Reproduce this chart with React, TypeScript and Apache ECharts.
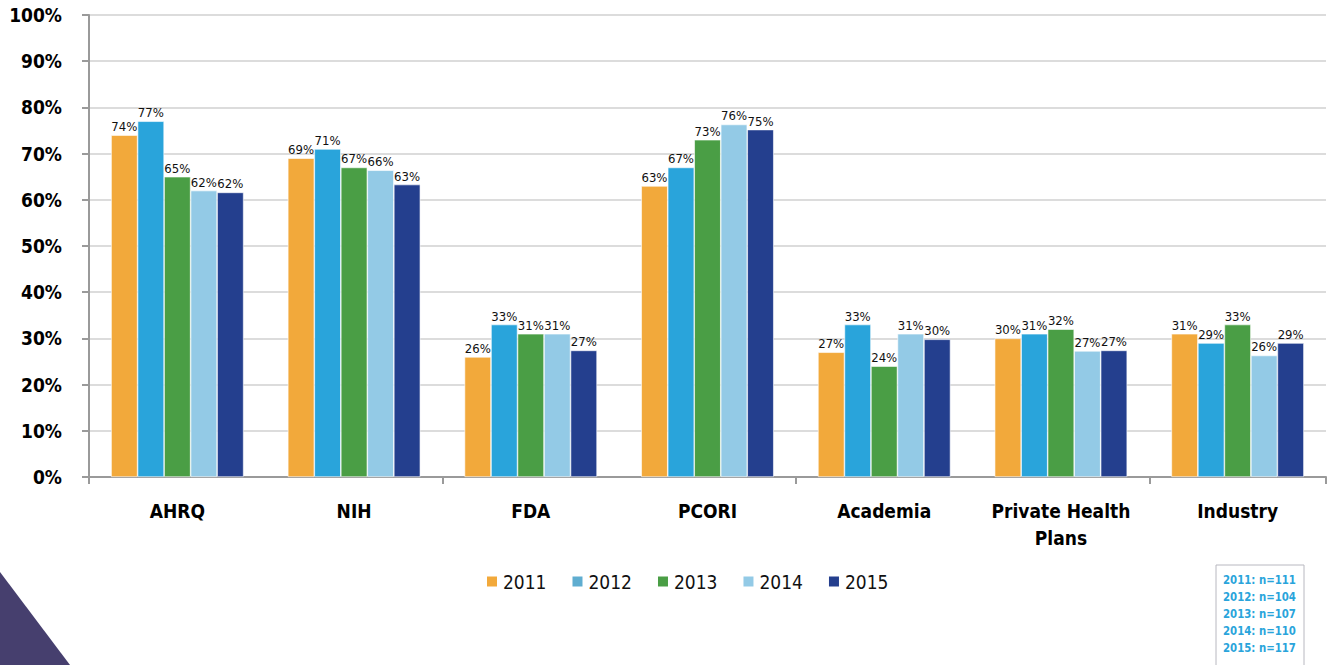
import React, { useEffect, useRef } from "react";
import * as echarts from "echarts";

const categories = ["AHRQ", "NIH", "FDA", "PCORI", "Academia", "Private Health\nPlans", "Industry"];
const years = ["2011", "2012", "2013", "2014", "2015"];
const colors = ["#F2A93B", "#29A4DB", "#4A9E45", "#93CAE6", "#243F8E"];
const legendColors = ["#F2A93B", "#5FADD0", "#4A9E45", "#93CAE6", "#243F8E"];
const v2011 = [74, 69, 26, 63, 27, 30, 31];
const v2012 = [77, 71, 33, 67, 33, 31, 29];
const v2013 = [65, 67, 31, 73, 24, 32, 33];
const v2014 = [62, 66.4, 31, 76.3, 31, 27.3, 26.3];
const v2015 = [61.6, 63.3, 27.4, 75.2, 29.8, 27.4, 29];
const seriesValues = [v2011, v2012, v2013, v2014, v2015];
const yTicks = [0, 10, 20, 30, 40, 50, 60, 70, 80, 90, 100];
const nNotes = ["2011: n=111", "2012: n=104", "2013: n=107", "2014: n=110", "2015: n=117"];

const FONT = '"Liberation Sans Narrow", "DejaVu Sans Condensed", "Roboto", sans-serif';

export default function App() {
  const ref = useRef<HTMLDivElement>(null);
  useEffect(() => {
    if (!ref.current) return;
    const chart = echarts.init(ref.current, null, { renderer: "svg" });
    const option: any = {
      animation: false,
      backgroundColor: "#ffffff",
      textStyle: { fontFamily: FONT },
      grid: { left: 89, right: 1, top: 15, bottom: 188, containLabel: false },
      legend: {
        data: years.map((y, i) => ({ name: y, itemStyle: { color: legendColors[i] } })),
        left: 480,
        top: 567,
        itemWidth: 12,
        itemHeight: 12,
        itemGap: 24,
        icon: "rect",
        textStyle: { fontFamily: FONT, fontSize: 19, color: "#111" },
      },
      xAxis: {
        type: "category",
        data: categories,
        boundaryGap: true,
        axisLine: { lineStyle: { color: "#9a9a9a", width: 2 } },
        axisTick: { show: true, interval: 1, length: 7, lineStyle: { color: "#9a9a9a", width: 2 } },
        axisLabel: {
          interval: 0,
          margin: 20,
          fontFamily: FONT,
          fontWeight: "bold",
          fontSize: 19,
          color: "#000",
          lineHeight: 27,
        },
      },
      yAxis: {
        type: "value",
        min: 0,
        max: 100,
        interval: 10,
        axisLine: { show: true, lineStyle: { color: "#9a9a9a", width: 2 } },
        axisTick: { show: true, length: 7, lineStyle: { color: "#9a9a9a", width: 2 } },
        splitLine: { lineStyle: { color: "#dcdcdc", width: 2 } },
        axisLabel: {
          margin: 27,
          fontFamily: FONT,
          fontWeight: "bold",
          fontSize: 19,
          color: "#000",
          formatter: (v: number) => (yTicks.includes(v) ? v + "%" : ""),
        },
      },
      series: seriesValues.map((vals, i) => ({
        name: years[i],
        type: "bar",
        data: vals,
        barGap: "0%",
        barCategoryGap: "25%",
        itemStyle: { color: colors[i], borderColor: "#ffffff", borderWidth: 0.6 },
        label: {
          show: true,
          position: "top",
          distance: 2,
          fontFamily: FONT,
          fontSize: 13,
          color: "#111",
          formatter: (p: any) => Math.round(p.value) + "%",
        },
      })),
      graphic: [
        {
          type: "polygon",
          shape: { points: [[0, 572], [70, 665], [0, 665]] },
          style: { fill: "#463F6E" },
          z: 10,
        },
        {
          type: "rect",
          shape: { x: 1216, y: 565, width: 88, height: 110 },
          style: { fill: "#ffffff", stroke: "#b8b8c0", lineWidth: 1 },
          z: 10,
        },
        ...nNotes.map((t, i) => ({
          type: "text",
          x: 1223,
          y: 573 + i * 17,
          scaleX: 0.87,
          style: {
            text: t,
            fill: "#29A4DB",
            fontFamily: FONT,
            fontWeight: "bold",
            fontSize: 13,
          },
          z: 11,
        })),
      ],
    };
    chart.setOption(option);
    return () => chart.dispose();
  }, []);
  return (
    <div
      ref={ref}
      style={{ position: "fixed", left: 0, top: 0, width: 1327, height: 665, background: "#fff" }}
    />
  );
}
